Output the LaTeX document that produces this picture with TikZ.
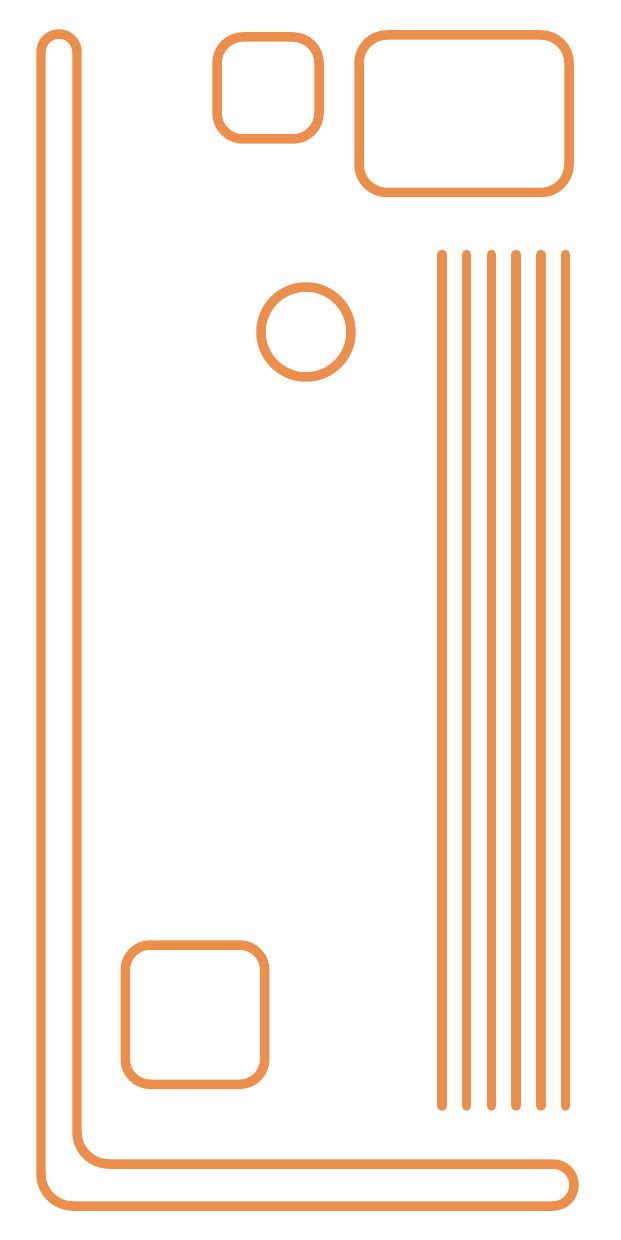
\documentclass[tikz,border=0pt]{standalone}
\usepackage{tikz}
\usepackage{xcolor}
\definecolor{accentorange}{RGB}{236,143,77}

\begin{document}
\begin{tikzpicture}[x=0.01cm, y=-0.01cm,
    outline/.style={draw=accentorange, line width=2.7pt},
    bar/.style={draw=accentorange, line width=2.7pt, line cap=round}]
    % Canvas
    \useasboundingbox (0, 0) rectangle (620, 1240);

    % L-shaped frame (left and bottom)
    \draw[outline] (41, 1174) -- (41, 52)
        arc[start angle=180, end angle=360, radius=18]
        -- (77, 1132)
        arc[start angle=180, end angle=90, radius=32]
        -- (553, 1164)
        arc[start angle=-90, end angle=90, radius=21]
        -- (73, 1206)
        arc[start angle=90, end angle=180, radius=32]
        -- cycle;

    % Boxes (top)
    \draw[outline, rounded corners=0.26cm] (217, 37) rectangle (319, 139);
    \draw[outline, rounded corners=0.28cm] (359, 35) rectangle (569, 192.5);

    % Circle
    \draw[outline] (306, 332) circle[radius=45];

    % Box (bottom)
    \draw[outline, rounded corners=0.25cm] (125.3, 945) rectangle (264.7, 1084.3);

    % Vertical bars (right)
    \draw[bar] (442, 254.5) -- (442, 1106);
    \draw[bar] (466.7, 254.5) -- (466.7, 1106);
    \draw[bar] (491.4, 254.5) -- (491.4, 1106);
    \draw[bar] (516.1, 254.5) -- (516.1, 1106);
    \draw[bar] (540.8, 254.5) -- (540.8, 1106);
    \draw[bar] (565.5, 254.5) -- (565.5, 1106);

\end{tikzpicture}
\end{document}
